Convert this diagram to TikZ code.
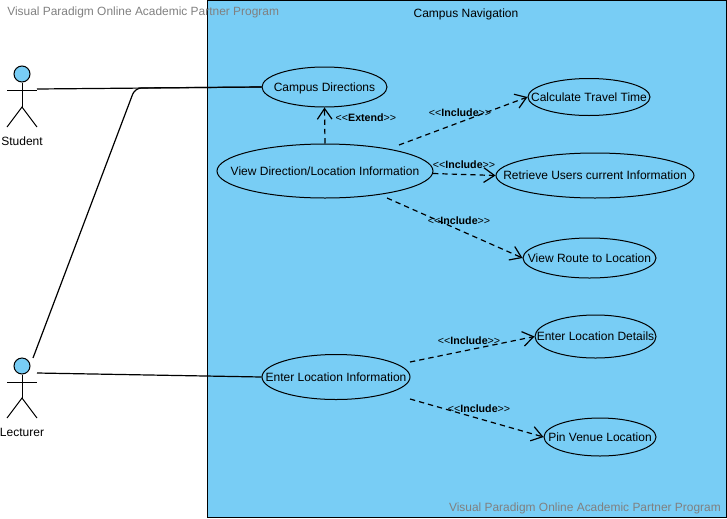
\documentclass[tikz,border=0pt]{standalone}
\usepackage{fontspec}
\setmainfont{Liberation Sans}
\usetikzlibrary{shapes.geometric,arrows.meta}
\definecolor{sysblue}{RGB}{120,205,245}
\newcommand{\uctext}[1]{\makebox[0pt]{\rule[-1.9pt]{0pt}{9.9pt}#1}}

\begin{document}
\begin{tikzpicture}[
    x=0.75pt, y=-0.75pt,
    usecase/.style={ellipse, draw, fill=sysblue, inner sep=0pt, font=\fontsize{9}{11}\selectfont, line width=0.75pt},
    head/.style={circle, draw, fill=sysblue, minimum size=12pt, inner sep=0pt, line width=0.75pt},
    actorlabel/.style={font=\fontsize{9}{11}\selectfont},
    limb/.style={line width=0.75pt},
    assoc/.style={line width=0.9pt},
    dep/.style={dashed, line width=0.9pt, dash pattern=on 4pt off 3pt, -{Straight Barb[length=8pt,width=11pt]}},
    deplabel/.style={font=\fontsize{8}{10}\selectfont},
    watermark/.style={text=black!50, inner sep=0pt, font=\fontsize{8.95}{11}\selectfont}
]
    \useasboundingbox (0,0) rectangle (727,518);

    % System boundary
    \node[draw, fill=sysblue, line width=0.75pt, minimum width=389.25pt, minimum height=387.75pt, inner sep=0pt, anchor=north west] (campusnav) at (207,0) {};
    \node[actorlabel] (campustitle) at (466,14) {Campus Navigation};

    % Student
    \node[head] (studenthead) at (22,74) {};
    \coordinate (studentleft) at (7,90);
    \coordinate (studentright) at (37,90);
    \coordinate (studenthip) at (22,107);
    \coordinate (studentfootl) at (7,127);
    \coordinate (studentfootr) at (37,127);
    \draw[limb] (studenthead.south) -- (studenthip);
    \draw[limb] (studentleft) -- (studentright);
    \draw[limb] (studentfootl) -- (studenthip) -- (studentfootr);
    \node[actorlabel] (studentname) at (22,141) {Student};

    % Lecturer
    \node[head] (lecturerhead) at (22,366) {};
    \coordinate (lecturerleft) at (7,382);
    \coordinate (lecturerright) at (37,382);
    \coordinate (lecturerhip) at (22,398);
    \coordinate (lecturerfootl) at (7,418);
    \coordinate (lecturerfootr) at (37,418);
    \draw[limb] (lecturerhead.south) -- (lecturerhip);
    \draw[limb] (lecturerleft) -- (lecturerright);
    \draw[limb] (lecturerfootl) -- (lecturerhip) -- (lecturerfootr);
    \node[actorlabel] (lecturername) at (22,432) {Lecturer};

    % Use cases
    \node[usecase, minimum width=93.75pt, minimum height=30pt] (campusdirs) at (324.5,87) {\uctext{Campus Directions}};
    \node[usecase, minimum width=162pt, minimum height=40.5pt] (viewinfo) at (325,171) {\uctext{View Direction/Location Information}};
    \node[usecase, minimum width=91.5pt, minimum height=27.75pt] (calctime) at (589,97) {\uctext{Calculate Travel Time}};
    \node[usecase, minimum width=148.5pt, minimum height=33.75pt] (retrieveinfo) at (595,175.5) {\uctext{Retrieve Users current Information}};
    \node[usecase, minimum width=99.75pt, minimum height=30pt] (viewroute) at (589.5,258) {\uctext{View Route to Location}};
    \node[usecase, minimum width=111pt, minimum height=33.75pt] (enterinfo) at (336,377) {\uctext{Enter Location Information}};
    \node[usecase, minimum width=90.75pt, minimum height=32.25pt] (enterdetails) at (595.5,336.5) {\uctext{Enter Location Details}};
    \node[usecase, minimum width=84pt, minimum height=28.5pt] (pinvenue) at (600,437) {\uctext{Pin Venue Location}};

    % Associations
    \coordinate (studenthand) at (37,89);
    \coordinate (lecturerhand) at (37,373);
    \coordinate (lecturertop) at (33,358);
    \coordinate (lecturerbend) at (135,88);
    \draw[assoc] (studenthand) -- (campusdirs.west);
    \draw[assoc, rounded corners=5pt] (lecturertop) -- (lecturerbend) -- (campusdirs.west);
    \draw[assoc] (lecturerhand) -- (enterinfo.west);

    % Extend and include
    \coordinate (viewtocalc) at (399,145);
    \coordinate (viewtoretrieve) at (433,173.5);
    \coordinate (viewtoroute) at (387,198);
    \coordinate (entertodetails) at (410,362);
    \coordinate (entertopin) at (410,399);
    \draw[dep] (viewinfo.north) -- (campusdirs.south) node[deplabel, pos=0.73, right=4.5pt] {{<}{<}\textbf{Extend}{>}{>}};
    \draw[dep] (viewtocalc) -- (calctime.west);
    \draw[dep] (viewtoretrieve) -- (retrieveinfo.west);
    \draw[dep] (viewtoroute) -- (viewroute.west);
    \draw[dep] (entertodetails) -- (enterdetails.west);
    \draw[dep] (entertopin) -- (pinvenue.west);
    \node[deplabel] (inclcalc) at (460,113) {{<}{<}\textbf{Include}{>}{>}};
    \node[deplabel] (inclretrieve) at (464,165) {{<}{<}\textbf{Include}{>}{>}};
    \node[deplabel] (inclroute) at (459,221) {{<}{<}\textbf{Include}{>}{>}};
    \node[deplabel] (incldetails) at (469,341) {{<}{<}\textbf{Include}{>}{>}};
    \node[deplabel] (inclpin) at (479,409) {{<}{<}\textbf{Include}{>}{>}};

    % Watermarks
    \node[watermark, anchor=west] (marktop) at (7,12) {Visual Paradigm Online Academic Partner Program};
    \node[watermark, anchor=east] (markbottom) at (721,508) {Visual Paradigm Online Academic Partner Program};
\end{tikzpicture}
\end{document}
